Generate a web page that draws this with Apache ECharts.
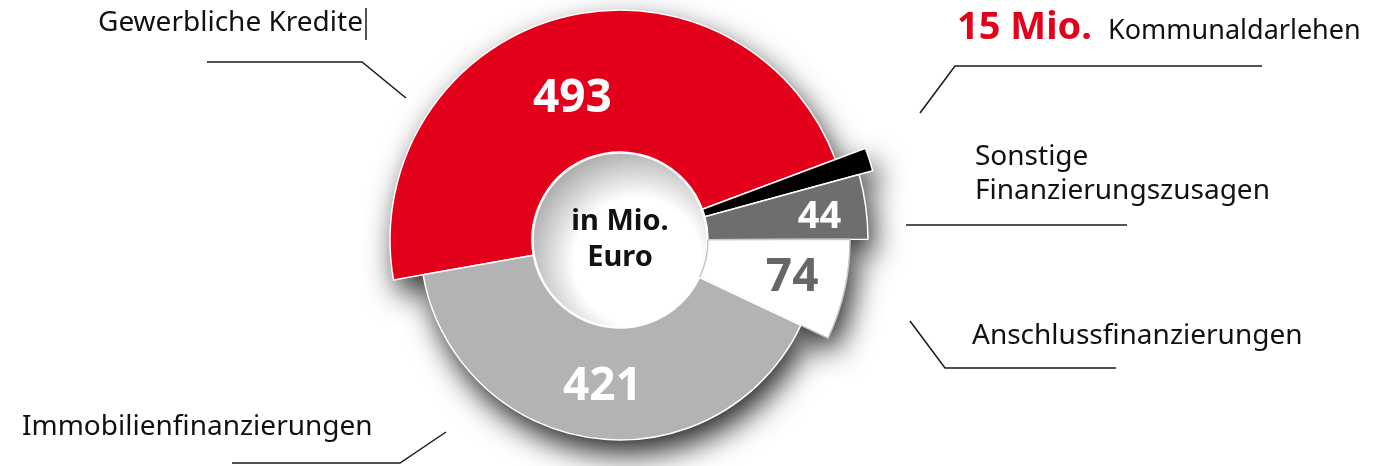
<!DOCTYPE html>
<html>
<head>
<meta charset="utf-8">
<script src="https://cdn.jsdelivr.net/npm/echarts@6/dist/echarts.min.js"></script>
<style>
  html, body { margin: 0; padding: 0; background: #fff; }
  #chart { width: 1397px; height: 466px; }
</style>
</head>
<body>
<div id="chart"></div>
<script>
// Daten (in Mio. Euro)
const categories = ['Gewerbliche Kredite', 'Kommunaldarlehen', 'Sonstige Finanzierungszusagen', 'Anschlussfinanzierungen', 'Immobilienfinanzierungen'];
const values = [493, 15, 44, 74, 421];
const centerText = ['in Mio.', 'Euro'];

// Darstellung je Segment
const sliceColors = ['#e2001a', '#000000', '#6e6e6e', '#ffffff', '#b3b3b3'];
const sliceBorders = ['#ffffff', '#ffffff', '#ffffff', '#c8c8c8', '#ffffff'];
const outerRadii = [230, 262, 248, 230, 200];
const labelColors = ['#ffffff', '#ffffff', '#ffffff', '#666666', '#ffffff'];
const labelSizes = [46, 0, 38, 46, 46];
const labelOffsets = [[-5, 15], [0, 0], [30, 0], [14, 3], [2, 1]];

const CENTER = [620, 240];
const INNER = 88;
const START_ANGLE = 190;
const FONT = '"Noto Sans", "Open Sans", sans-serif';

const chart = echarts.init(document.getElementById('chart'));

/**
 * Ein Segment als eigene Pie-Serie, alle anderen transparent
 */
function sliceSeries(idx, shadowOnly) {
    return {
        type: 'pie',
        center: CENTER,
        radius: [INNER, outerRadii[idx]],
        startAngle: START_ANGLE,
        clockwise: true,
        silent: true,
        animation: false,
        z: shadowOnly ? 1 : 3,
        labelLine: { show: false },
        emphasis: { disabled: true },
        data: values.map((v, i) => {
            const active = i === idx;
            return {
                value: v,
                name: categories[i],
                itemStyle: active ? (shadowOnly ? {
                    color: '#999999',
                    borderWidth: 0,
                    shadowBlur: 30,
                    shadowColor: 'rgba(0,0,0,0.85)',
                    shadowOffsetX: 6,
                    shadowOffsetY: 14
                } : {
                    color: sliceColors[i],
                    borderColor: sliceBorders[i],
                    borderWidth: 1.5
                }) : { color: 'rgba(0,0,0,0)', borderWidth: 0 },
                label: {
                    show: !shadowOnly && active && labelSizes[i] > 0,
                    position: 'inside',
                    formatter: '{c}',
                    color: labelColors[i],
                    fontSize: labelSizes[i],
                    fontWeight: 'bold',
                    fontFamily: FONT,
                    offset: labelOffsets[i]
                }
            };
        })
    };
}

const series = [];
values.forEach((v, i) => series.push(sliceSeries(i, true)));
values.forEach((v, i) => series.push(sliceSeries(i, false)));

// Innenkreis mit Schattierung
series.push({
    type: 'pie',
    center: CENTER,
    radius: [0, INNER - 1],
    silent: true,
    animation: false,
    z: 2,
    labelLine: { show: false },
    label: {
        show: true,
        position: 'center',
        formatter: centerText.join('\n'),
        color: '#111',
        fontSize: 29,
        fontWeight: 'bold',
        lineHeight: 36,
        fontFamily: FONT
    },
    data: [{
        value: 1,
        itemStyle: {
            borderColor: '#ffffff',
            borderWidth: 1.5,
            color: {
                type: 'radial', x: 0.6, y: 0.62, r: 0.66,
                colorStops: [
                    { offset: 0, color: '#ffffff' },
                    { offset: 0.55, color: '#ffffff' },
                    { offset: 1, color: '#a9a9a9' }
                ]
            }
        }
    }]
});

// Beschriftungen außen
const textStyle = (txt, x, y, extra) => ({
    type: 'text',
    x: x,
    y: y,
    z: 10,
    style: Object.assign({
        text: txt,
        font: '28px ' + FONT,
        fill: '#111',
        verticalAlign: 'middle'
    }, extra || {})
});
const line = (pts) => ({
    type: 'polyline',
    z: 10,
    shape: { points: pts },
    style: { stroke: '#1a1a1a', lineWidth: 1.5, fill: null }
});

const graphic = [
    textStyle(categories[0], 98, 23),
    line([[366, 8], [366, 40]]),
    line([[207, 62], [362, 62], [406, 98]]),

    textStyle(values[1] + ' Mio.', 957, 28, { font: 'bold 38px ' + FONT, fill: '#e2001a' }),
    textStyle(categories[1], 1108, 31, { font: '27px ' + FONT }),
    line([[920, 113], [955, 66], [1262, 66]]),

    textStyle('Sonstige', 975, 157),
    textStyle('Finanzierungszusagen', 975, 191),
    line([[906, 225], [1127, 225]]),

    textStyle(categories[3], 972, 336),
    line([[910, 321], [945, 368], [1116, 368]]),

    textStyle(categories[4], 22, 427),
    line([[232, 463], [400, 463], [446, 432]])
];

chart.setOption({
    backgroundColor: '#ffffff',
    animation: false,
    series: series,
    graphic: graphic
});
</script>
</body>
</html>
